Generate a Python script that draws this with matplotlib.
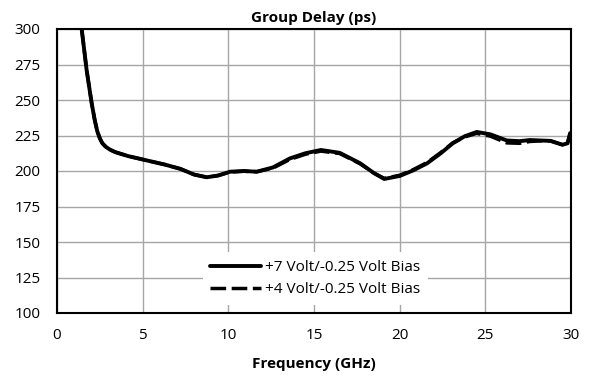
import numpy as np
import matplotlib
matplotlib.use("Agg")
import matplotlib.pyplot as plt

plt.rcParams['font.family'] = ['Open Sans', 'DejaVu Sans']

# frequency (GHz) and group delay (ps)
freq = [1.44, 1.73, 2.02, 2.2, 2.35, 2.5, 2.65, 2.85, 3.1, 3.4, 4.15, 5.4,
        6.3, 7.2, 8.0, 8.74, 9.4, 10.1, 10.9, 11.66, 12.6, 13.6, 14.5, 15.4,
        16.5, 17.7, 18.5, 19.1, 20.0, 20.8, 21.6, 22.4, 23.1, 23.8, 24.5,
        25.3, 26.25, 27.0, 27.6, 28.2, 28.8, 29.5, 29.8, 29.95]
delay_7v = [300, 271, 248, 236, 228, 223, 219.5, 217, 215, 213.3, 210.5, 207,
            204.5, 201.5, 197.5, 195.6, 196.8, 199.5, 200, 199.5, 202.5, 208.9,
            212.5, 214.8, 212.8, 205.4, 198.5, 194.4, 196.5, 200.5, 205.4,
            212.5, 219.5, 224.5, 227.5, 225.8, 221.5, 221, 221.8, 221.5, 221.2,
            218.5, 219.5, 226.7]
delay_4v = [300, 271, 248, 236, 228, 223, 219.5, 217, 215, 213.3, 210.5, 207,
            204.5, 201.5, 197.5, 195.6, 196.8, 199.3, 199.8, 199.5, 202, 208.2,
            211.8, 214, 212.3, 205, 198.5, 194.8, 197, 201, 206, 213, 219.8,
            224, 226.5, 224.5, 219.8, 219.5, 220.8, 221.2, 221.2, 218.5, 219.5,
            226.7]

x_ticks = [0, 5, 10, 15, 20, 25, 30]
y_ticks = [100, 125, 150, 175, 200, 225, 250, 275, 300]

fig = plt.figure(figsize=(5.93, 3.85), dpi=100)
ax = fig.add_axes([57/593, 1 - 313/385, (571 - 57)/593, (313 - 29)/385])

ax.plot(freq, delay_7v, color='black', lw=2.8, label='+7 Volt/-0.25 Volt Bias',
        solid_capstyle='round', solid_joinstyle='round')
ax.plot(freq, delay_4v, color='black', lw=2.5, ls=(0, (4.5, 1.6)),
        label='+4 Volt/-0.25 Volt Bias')

ax.set_xlim(0, 30)
ax.set_ylim(100, 300)
ax.set_xticks(x_ticks)
ax.set_yticks(y_ticks)
ax.tick_params(length=0, labelsize=11)
ax.tick_params(axis='y', pad=12)
ax.tick_params(axis='x', pad=11)
ax.grid(True, color='#a6a6a6', lw=1)
ax.set_axisbelow(True)
for s in ax.spines.values():
    s.set_linewidth(1.5)
    s.set_color('black')

ax.set_title('Group Delay (ps)', fontsize=11, fontweight='bold', pad=5)
ax.set_xlabel('Frequency (GHz)', fontsize=11, fontweight='bold', labelpad=10)

leg = ax.legend(loc='center', bbox_to_anchor=(0.503, 0.1215), frameon=True,
                fancybox=False, edgecolor='none', framealpha=1,
                fontsize=11, handlelength=3.3, handletextpad=0.3,
                labelspacing=0.45, borderpad=0.5, borderaxespad=0)

fig.savefig('out.png', dpi=100)
